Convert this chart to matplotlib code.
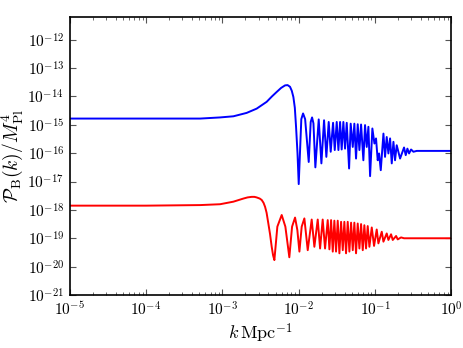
import numpy as np
import matplotlib
matplotlib.use("Agg")
import matplotlib.pyplot as plt
from matplotlib.ticker import LogLocator, NullLocator, FuncFormatter

plt.rcParams['mathtext.fontset'] = 'cm'
plt.rcParams['font.family'] = ['DejaVu Serif']

# log10(k) and log10(P_B) values
blue_logk = [-5.0, -4.0, -3.29, -3.03, -2.855, -2.681, -2.55, -2.419, -2.35, -2.287, -2.23, -2.178,
             -2.145, -2.113, -2.09, -2.069, -2.05, -2.034, -2.015, -1.999, -1.965, -1.942, -1.915,
             -1.868, -1.842, -1.824, -1.806, -1.781, -1.737, -1.702, -1.667,
             -1.637, -1.606, -1.580, -1.549, -1.527, -1.501, -1.479, -1.457, -1.436, -1.414,
             -1.392, -1.370, -1.339, -1.318, -1.291, -1.270, -1.248, -1.226, -1.204, -1.182,
             -1.152, -1.130, -1.108, -1.086, -1.064, -1.034, -1.007, -0.986, -0.964, -0.946,
             -0.924, -0.889, -0.868, -0.846, -0.824, -0.802, -0.780, -0.758, -0.737, -0.715,
             -0.671, -0.619, -0.597, -0.575, -0.553, -0.527, -0.496, -0.453, 0.0]
blue_logP = [-14.78, -14.78, -14.78, -14.74, -14.70, -14.58, -14.43, -14.19, -14.00, -13.84, -13.70, -13.61,
             -13.60, -13.66, -13.80, -14.02, -14.40, -15.07, -16.00, -17.09, -14.80, -14.60, -14.80,
             -16.31, -14.90, -14.74, -14.95, -16.50, -14.81, -16.36, -14.84,
             -16.13, -14.90, -15.95, -14.93, -15.89, -14.90, -15.89, -14.90, -15.87, -14.90,
             -15.84, -14.93, -16.54, -14.96, -15.78, -14.96, -16.19, -14.98, -15.89, -14.99,
             -16.25, -15.01, -15.78, -15.07, -16.81, -15.13, -15.66, -15.48, -16.25, -16.01,
             -16.60, -15.31, -16.13, -15.43, -16.01, -15.48, -16.36, -15.60, -16.25, -15.72,
             -16.19, -15.80, -16.07, -15.84, -16.01, -15.87, -15.95, -15.92, -15.92]

red_logk = [-5.0, -4.0, -3.29, -3.03, -2.855, -2.724, -2.67, -2.615, -2.58, -2.55, -2.51, -2.484,
            -2.46, -2.440, -2.42, -2.397, -2.375, -2.353, -2.335, -2.318, -2.279, -2.222, -2.174,
            -2.122, -2.086, -2.047, -2.017, -1.990,
            -1.960, -1.925, -1.881, -1.829, -1.794, -1.750, -1.719, -1.685, -1.654, -1.619,
            -1.597, -1.575, -1.553, -1.532, -1.510, -1.488, -1.466, -1.444, -1.422, -1.401,
            -1.379, -1.357, -1.335, -1.313, -1.291, -1.270, -1.248, -1.226, -1.204, -1.182,
            -1.160, -1.139, -1.117, -1.095, -1.073, -1.042, -1.012, -0.977, -0.955, -0.911,
            -0.889, -0.846, -0.824, -0.789, -0.767, -0.723, -0.702, -0.658, -0.619, 0.0]
red_logP = [-17.85, -17.85, -17.83, -17.80, -17.71, -17.60, -17.56, -17.54, -17.54, -17.56, -17.60, -17.65,
            -17.75, -17.89, -18.10, -18.48, -18.85, -19.30, -19.60, -19.77, -18.59, -18.18, -18.59,
            -19.67, -18.59, -18.27, -18.71, -19.47,
            -18.59, -18.30, -19.42, -18.34, -19.30, -18.34, -19.36, -18.34, -19.36, -18.36,
            -19.39, -18.36, -19.47, -18.38, -19.47, -18.38, -19.53, -18.42, -19.42, -18.42,
            -19.53, -18.42, -19.47, -18.45, -19.42, -18.45, -19.53, -18.48, -19.36, -18.50,
            -19.42, -18.54, -19.36, -18.57, -19.30, -18.62, -19.27, -18.69, -19.18, -18.77,
            -19.12, -18.83, -19.06, -18.86, -19.06, -18.92, -19.04, -18.97, -19.00, -19.00]

fig = plt.figure(figsize=(4.63, 3.48), dpi=100)
ax = fig.add_axes([0.1505, 0.1523, 0.8242, 0.7988])

ax.plot(10.0 ** np.array(blue_logk), 10.0 ** np.array(blue_logP), color='blue', lw=1.4,
        solid_joinstyle='round')
ax.plot(10.0 ** np.array(red_logk), 10.0 ** np.array(red_logP), color='red', lw=1.4,
        solid_joinstyle='round')

ax.set_xscale('log')
ax.set_yscale('log')
ax.set_xlim(1e-5, 1.0)
ax.set_ylim(1e-21, 10 ** -11.2)

fmt = FuncFormatter(lambda v, p: r'$10^{%d}$' % int(round(np.log10(v))))
ax.xaxis.set_major_locator(LogLocator(base=10, numticks=20))
ax.xaxis.set_minor_locator(LogLocator(base=10, subs=np.arange(2, 10), numticks=100))
ax.yaxis.set_major_locator(LogLocator(base=10, numticks=30))
ax.yaxis.set_minor_locator(NullLocator())
ax.xaxis.set_major_formatter(fmt)
ax.yaxis.set_major_formatter(fmt)

ax.tick_params(which='both', direction='in', top=True, right=True, labelsize=11, color='#555555')
ax.tick_params(which='major', length=4, width=0.8, pad=4)
ax.tick_params(which='minor', length=2, width=0.6)
for s in ax.spines.values():
    s.set_linewidth(1.2)

ax.set_xlabel(r'$k\,{\rm Mpc}^{-1}$', fontsize=13, labelpad=2)
ax.set_ylabel(r'$\mathcal{P}_{\rm B}(k)/M_{\rm Pl}^4$', fontsize=14, labelpad=2)

fig.savefig('out.png', dpi=100)
